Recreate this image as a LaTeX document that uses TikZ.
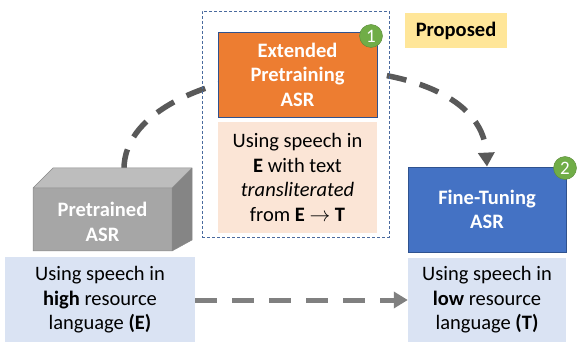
\documentclass[tikz,border=0pt]{standalone}
\usepackage{fontspec}
\setmainfont{Carlito}
\usetikzlibrary{arrows.meta}
\definecolor{orangeF}{HTML}{ED7D31}
\definecolor{blueF}{HTML}{4472C4}
\definecolor{edgeB}{HTML}{2F528F}
\definecolor{lblue}{HTML}{DAE3F3}
\definecolor{peach}{HTML}{FBE5D6}
\definecolor{yell}{HTML}{FFE699}
\definecolor{greenC}{HTML}{70AD47}
\definecolor{frameC}{HTML}{4A6A9E}
\definecolor{curveC}{HTML}{595959}
\definecolor{arrC}{HTML}{808080}
\definecolor{gFront}{HTML}{A6A6A6}
\definecolor{gTop}{HTML}{BDBDBD}
\definecolor{gSide}{HTML}{858585}
\definecolor{gEdge}{HTML}{8A8A8A}
\begin{document}
\begin{tikzpicture}[x=1pt,y=-1pt,
  txt/.style={align=center,font=\fontsize{20.5}{24.5}\selectfont,inner sep=0pt},
  box/.style={txt,minimum width=#1},
  badge/.style={circle,fill=greenC,draw=greenC!80!black,line width=0.4pt,minimum size=23,inner sep=0pt,text=white,font=\fontsize{19}{19}\selectfont},
  thickdash/.style={line width=5.5pt,draw=curveC,dash pattern=on 20pt off 14pt,-{Triangle[length=14pt,width=16pt]}},
  flatdash/.style={line width=5pt,draw=arrC,dash pattern=on 21.5pt off 15.5pt,-{Triangle[length=14pt,width=16pt]}}
]
\useasboundingbox (0,0) rectangle (579,342);
% curved dashed connector (behind boxes)
\coordinate (pretop) at (124,169);
\node[box=158,fill=blueF,draw=edgeB,line width=0.8pt,minimum height=85,text=white] (ft) at (487,209.5) {\textbf{Fine-Tuning}\\\textbf{ASR}};
\draw[thickdash] (pretop) .. controls (124,50) and (480,30) .. (ft.north);
% dashed frame
\node[draw=frameC,dashed,dash pattern=on 3pt off 2pt,line width=0.9pt,minimum width=187,minimum height=226,inner sep=0pt] (frame) at (295.5,124) {};
% orange box
\node[box=159,fill=orangeF,draw=edgeB,line width=0.8pt,minimum height=85,text=white] (ext) at (297.5,74.5) {\textbf{Extended}\\\textbf{Pretraining}\\\textbf{ASR}};
\node[box=159,fill=peach,minimum height=111] (peachbox) at (297.5,177.5) {Using speech in\\\textbf{E} with text\\\textit{transliterated}\\from \textbf{E} $\rightarrow$ \textbf{T}};
\node[badge] (b1) at (371,36) {1};
\node[badge] (b2) at (565,168) {2};
% proposed
\node[box=102,fill=yell,minimum height=35] (prop) at (456,30.5) {\textbf{Proposed}};
% grey 3D box
\fill[gTop] (33,188) -- (53,168) -- (192,168) -- (172,188) -- cycle;
\fill[gSide] (172,188) -- (192,168) -- (192,240) -- (172,251) -- cycle;
\fill[gFront] (33,188) rectangle (172,251);
\draw[gEdge,line width=0.5pt,line join=round] (33,188) -- (53,168) -- (192,168) -- (192,240) -- (172,251) -- (33,251) -- cycle (33,188) -- (172,188) -- (192,168) (172,188) -- (172,251);
\node[txt,text=white] (pre) at (102.5,222) {\textbf{Pretrained}\\\textbf{ASR}};
% bottom boxes
\node[box=190,fill=lblue,minimum height=86] (lbox) at (100,300) {Using speech in\\\textbf{high} resource\\language \textbf{(E)}};
\node[box=158,fill=lblue,minimum height=84] (rbox) at (487,300) {Using speech in\\\textbf{low} resource\\language \textbf{(T)}};
\draw[flatdash] (lbox.east) -- (rbox.west);
\end{tikzpicture}
\end{document}
